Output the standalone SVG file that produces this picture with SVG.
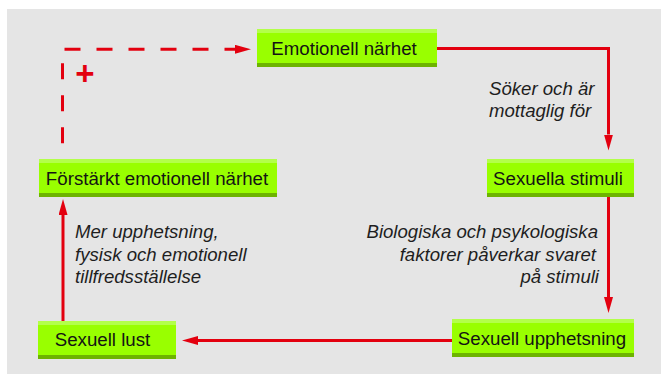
<svg xmlns="http://www.w3.org/2000/svg" width="661" height="374" viewBox="0 0 661 374">
  <defs>
    <style>
      .box { fill: #99ff00; }
      .hi { fill: #b3ff4a; }
      .lo { fill: #6db300; }
      .lbl { font-family: "Liberation Sans", Arial, sans-serif; font-size: 18.7px; fill: #141414; text-anchor: middle; }
      .it { font-family: "Liberation Sans", Arial, sans-serif; font-size: 18.6px; font-style: italic; fill: #1e1e1e; }
      .con { fill: none; stroke: #e3000f; stroke-width: 3; }
      .dash { stroke-dasharray: 16 16; }
    </style>
    <marker id="arr" markerUnits="userSpaceOnUse" viewBox="0 0 16 9" markerWidth="16" markerHeight="9" refX="0" refY="4.5" orient="auto">
      <path d="M0,0 L16,4.5 L0,9 Z" fill="#e3000f"/>
    </marker>
  </defs>

  <rect x="7" y="9" width="654" height="365" fill="#e5e5e5"/>

  <g id="connectors">
    <path class="con dash" d="M62.5,143.3 V49.3 H235" marker-end="url(#arr)"/>
    <path class="con" d="M437,48.5 H608.5 V134.5" marker-end="url(#arr)"/>
    <path class="con" d="M608.5,197 V297" marker-end="url(#arr)"/>
    <path class="con" d="M452,340.5 H198" marker-end="url(#arr)"/>
    <path class="con" d="M63,321 V215" marker-end="url(#arr)"/>
    <text x="85" y="85" font-family="Liberation Sans, Arial, sans-serif" font-size="33" font-weight="bold" fill="#e3000f" text-anchor="middle">+</text>
  </g>

  <g id="n-emotionell">
    <rect class="box" x="257" y="29" width="180" height="38"/>
    <rect class="hi" x="257" y="29" width="180" height="4"/>
    <rect class="lo" x="257" y="63" width="180" height="4"/>
    <text class="lbl" x="344" y="55">Emotionell närhet</text>
  </g>

  <g id="n-stimuli">
    <rect class="box" x="487" y="159" width="147" height="38"/>
    <rect class="hi" x="487" y="159" width="147" height="4"/>
    <rect class="lo" x="487" y="193" width="147" height="4"/>
    <text class="lbl" x="558" y="185">Sexuella stimuli</text>
  </g>

  <g id="n-forstarkt">
    <rect class="box" x="39" y="159" width="238" height="38"/>
    <rect class="hi" x="39" y="159" width="238" height="4"/>
    <rect class="lo" x="39" y="193" width="238" height="4"/>
    <text class="lbl" x="157" y="185">Förstärkt emotionell närhet</text>
  </g>

  <g id="n-lust">
    <rect class="box" x="38" y="321" width="138" height="38"/>
    <rect class="hi" x="38" y="321" width="138" height="4"/>
    <rect class="lo" x="38" y="355" width="138" height="4"/>
    <text class="lbl" x="102.5" y="346">Sexuell lust</text>
  </g>

  <g id="n-upphetsning">
    <rect class="box" x="452" y="319" width="182" height="38"/>
    <rect class="hi" x="452" y="319" width="182" height="4"/>
    <rect class="lo" x="452" y="353" width="182" height="4"/>
    <text class="lbl" x="542" y="345">Sexuell upphetsning</text>
  </g>

  <g id="labels">
    <text class="it" x="489" y="95">Söker och är</text>
    <text class="it" x="489" y="117.3">mottaglig för</text>
    <text class="it" x="75" y="238.3">Mer upphetsning,</text>
    <text class="it" x="75" y="260.8">fysisk och emotionell</text>
    <text class="it" x="75" y="283.3">tillfredsställelse</text>
    <text class="it" x="598" y="238.3" text-anchor="end">Biologiska och psykologiska</text>
    <text class="it" x="596" y="260.8" text-anchor="end">faktorer påverkar svaret</text>
    <text class="it" x="599" y="283.3" text-anchor="end">på stimuli</text>
  </g>
</svg>
